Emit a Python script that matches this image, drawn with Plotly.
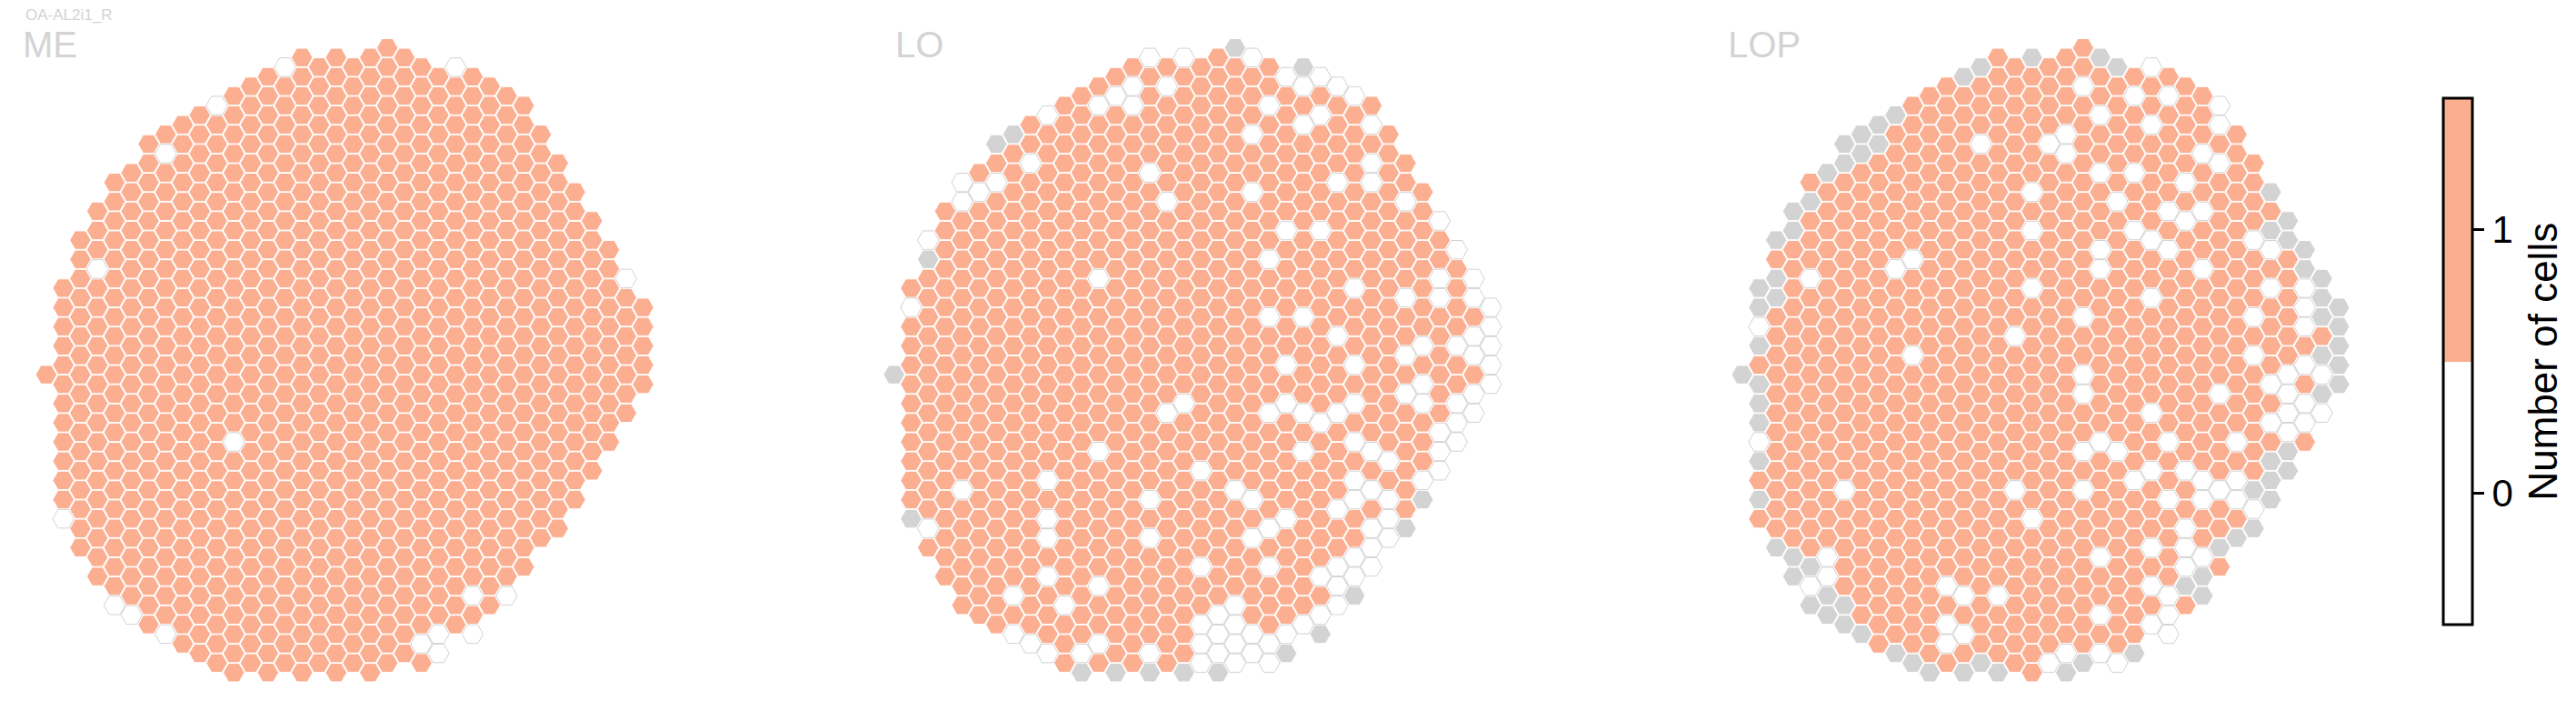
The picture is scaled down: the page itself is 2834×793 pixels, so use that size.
import plotly.graph_objects as go

# ---------------- data ----------------
PANELS = ["ME", "LO", "LOP"]
CELL_TYPE = "OA-AL2i1_R"
CBAR_LABEL = "Number of cells"

# hex grid outline: for each column index, first and last half-row index
COL_TOP = [34, 25, 20, 17, 14, 13, 10, 9, 8, 7, 6, 5, 4, 3, 2, 1, 2, 1,
           2, 1, 0, 1, 2, 3, 2, 3, 4, 5, 6, 9, 12, 15, 18, 21, 24, 27]
COL_BOTTOM = [34, 49, 52, 55, 58, 59, 60, 61, 62, 63, 64, 65, 64, 65, 64, 65, 64, 65,
              64, 65, 64, 63, 64, 63, 60, 61, 58, 57, 54, 51, 50, 47, 44, 41, 38, 35]

# cells with 0 cells (white) / not present (grey) per neuropil, as (column, half-row)
ME_ZERO = [(1, 49), (3, 23), (4, 58), (5, 59), (7, 11), (7, 61), (10, 6), (11, 41),
           (14, 2), (22, 62), (23, 61), (23, 63), (24, 2), (25, 57), (25, 61), (27, 57), (34, 24)]
ME_MISSING = []

LO_ZERO = [(15, 1), (17, 1), (21, 1), (23, 3), (25, 3), (14, 4), (16, 4), (24, 4), (26, 4),
           (13, 5), (27, 5), (12, 6), (14, 6), (22, 6), (9, 7), (25, 7), (24, 8), (28, 8),
           (21, 9), (8, 12), (28, 12), (15, 13), (4, 14), (6, 14), (5, 15), (26, 14), (28, 14),
           (21, 15), (4, 16), (16, 16), (30, 16), (32, 18), (23, 19), (25, 19), (2, 20), (22, 22),
           (33, 21), (12, 24), (32, 24), (34, 24), (27, 25), (1, 27), (30, 26), (32, 26), (34, 26),
           (35, 27), (22, 28), (24, 28), (26, 30), (35, 29), (34, 30), (31, 31), (33, 31), (35, 31),
           (30, 32), (34, 32), (23, 33), (27, 33), (35, 33), (31, 35), (35, 35), (30, 36), (34, 36),
           (17, 37), (23, 37), (27, 37), (31, 37), (33, 37), (16, 38), (22, 38), (24, 38), (26, 38),
           (34, 38), (25, 39), (33, 39), (32, 40), (27, 41), (33, 41), (12, 42), (24, 42), (28, 42),
           (32, 42), (29, 43), (18, 44), (32, 44), (9, 45), (27, 45), (31, 45), (4, 46), (20, 46),
           (28, 46), (15, 47), (21, 47), (27, 47), (29, 47), (26, 48), (9, 49), (23, 49), (29, 49),
           (2, 50), (22, 50), (28, 50), (9, 51), (15, 51), (21, 51), (29, 51), (28, 52), (27, 53),
           (18, 54), (22, 54), (26, 54), (28, 54), (9, 55), (25, 55), (27, 55), (12, 56), (26, 56),
           (7, 57), (10, 58), (20, 58), (26, 58), (19, 59), (25, 59), (18, 60), (20, 60), (24, 60),
           (7, 61), (19, 61), (21, 61), (23, 61), (8, 62), (12, 62), (18, 62), (20, 62), (22, 62),
           (9, 63), (11, 63), (15, 63), (19, 63), (21, 63), (18, 64), (20, 64), (22, 64)]
LO_MISSING = [(20, 0), (24, 2), (7, 9), (6, 10), (2, 22), (0, 34), (31, 47), (1, 49), (30, 50),
              (27, 57), (25, 61), (23, 63), (11, 65), (13, 65), (15, 65), (17, 65), (19, 65)]

LOP_ZERO = [(24, 2), (20, 4), (23, 5), (25, 5), (28, 6), (21, 7), (24, 8), (28, 8), (19, 9),
            (14, 10), (18, 10), (19, 11), (27, 11), (28, 12), (21, 13), (23, 13), (26, 14),
            (17, 15), (22, 16), (25, 17), (27, 17), (26, 18), (17, 19), (23, 19), (24, 20),
            (30, 20), (21, 21), (25, 21), (31, 21), (10, 22), (9, 23), (21, 23), (27, 23), (4, 24),
            (17, 25), (31, 25), (33, 25), (24, 26), (33, 27), (20, 28), (30, 28), (1, 29), (33, 29),
            (16, 30), (10, 32), (30, 32), (33, 33), (20, 34), (32, 34), (34, 34), (31, 35), (20, 36),
            (28, 36), (32, 36), (33, 37), (24, 38), (32, 38), (34, 38), (31, 39), (33, 39), (32, 40),
            (1, 41), (21, 41), (25, 41), (29, 41), (20, 42), (22, 42), (24, 44), (26, 44), (23, 45),
            (27, 45), (29, 45), (6, 46), (16, 46), (20, 46), (28, 46), (25, 47), (27, 47), (29, 47),
            (30, 48), (17, 49), (26, 50), (24, 52), (26, 52), (5, 53), (21, 53), (27, 53), (26, 54),
            (5, 55), (4, 56), (12, 56), (24, 56), (13, 57), (15, 57), (25, 57), (21, 59), (25, 59),
            (12, 60), (24, 60), (13, 61), (25, 61), (12, 62), (19, 63), (21, 63), (18, 64), (22, 64)]
LOP_MISSING = [(17, 1), (21, 1), (14, 2), (22, 2), (13, 3), (9, 7), (8, 8), (7, 9), (6, 10), (8, 10),
               (7, 11), (6, 12), (5, 13), (31, 15), (4, 16), (3, 17), (32, 18), (3, 19), (31, 19),
               (2, 20), (32, 20), (33, 21), (33, 23), (2, 24), (34, 24), (1, 25), (2, 26), (34, 26),
               (1, 27), (35, 27), (34, 28), (35, 29), (1, 31), (35, 31), (34, 32), (0, 34), (35, 33),
               (1, 35), (35, 35), (34, 36), (1, 37), (1, 39), (32, 42), (1, 43), (31, 43), (32, 44),
               (31, 45), (30, 46), (1, 47), (31, 47), (30, 50), (29, 51), (2, 52), (28, 52), (3, 53),
               (4, 54), (3, 55), (27, 55), (26, 56), (5, 57), (27, 57), (4, 58), (6, 58), (5, 59),
               (6, 60), (7, 61), (9, 63), (23, 63), (10, 64), (14, 64), (20, 64), (11, 65), (13, 65),
               (15, 65), (19, 65)]

ZEROS = {"ME": ME_ZERO, "LO": LO_ZERO, "LOP": LOP_ZERO}
MISSING = {"ME": ME_MISSING, "LO": LO_MISSING, "LOP": LOP_MISSING}
CBAR_TICKS = [0, 1]

# ---------------- styling / layout ----------------
OFF = 8                      # page body margin of the browser
W, H = 2834 - OFF, 793 - OFF
SALMON = "#fcae91"
GREY = "#d3d3d3"
TITLE_GREY = "#d3d3d3"
FONT = "Liberation Sans, Arial, sans-serif"

COL_PITCH = 18.76           # px per column
HALF_ROW = 10.57            # px per half-row
PANEL_C0 = [50.9, 983.6, 1916.6]  # window px of column 0 centre for each panel
ROW0_PX = 52.7
X_RANGE = [-1.5, 36.5]
Y_RANGE = [-68, 2]
TITLE_X = [25, 985, 1901]
HEX_SIZE = 23.5

fig = go.Figure()
layout_axes = {}

for k, name in enumerate(PANELS):
    zero = set(ZEROS[name])
    miss = set(MISSING[name])
    groups = {"one": ([], []), "zero": ([], []), "miss": ([], [])}
    for c in range(len(COL_TOP)):
        for j in range(COL_TOP[c], COL_BOTTOM[c] + 1, 2):
            key = "miss" if (c, j) in miss else ("zero" if (c, j) in zero else "one")
            groups[key][0].append(c)
            groups[key][1].append(-j)
    sfx = "" if k == 0 else str(k + 1)
    styles = {
        "one": (SALMON, "#ffffff"),
        "miss": (GREY, "#ffffff"),
        "zero": ("#ffffff", "#d2d2d2"),
    }
    for key in ["one", "miss", "zero"]:
        xs, ys = groups[key]
        fill, line = styles[key]
        fig.add_trace(go.Scatter(
            x=xs, y=ys, mode="markers", xaxis="x" + sfx, yaxis="y" + sfx,
            marker=dict(symbol="hexagon2", size=HEX_SIZE, color=fill,
                        line=dict(color=line, width=1)),
            hoverinfo="skip", showlegend=False))
    x0 = PANEL_C0[k] + X_RANGE[0] * COL_PITCH - OFF
    x1 = PANEL_C0[k] + X_RANGE[1] * COL_PITCH - OFF
    ytop = ROW0_PX - Y_RANGE[1] * HALF_ROW - OFF
    ybot = ROW0_PX - Y_RANGE[0] * HALF_ROW - OFF
    layout_axes["xaxis" + sfx] = dict(domain=[x0 / W, x1 / W], range=X_RANGE, visible=False,
                                      anchor="y" + sfx, fixedrange=True)
    layout_axes["yaxis" + sfx] = dict(domain=[1 - ybot / H, 1 - ytop / H], range=Y_RANGE,
                                      visible=False, anchor="x" + sfx, fixedrange=True)

# colorbar (discrete two-colour)
CB_LEFT, CB_TOP, CB_BOTTOM = 2688, 108, 687
cb_center = (CB_TOP + CB_BOTTOM) / 2 - OFF
fig.add_trace(go.Scatter(
    x=[-100, -100], y=[-100, -100], mode="markers", xaxis="x", yaxis="y",
    marker=dict(color=CBAR_TICKS, cmin=-0.5, cmax=1.5,
                colorscale=[[0, "#ffffff"], [0.5, "#ffffff"], [0.5, SALMON], [1, SALMON]],
                showscale=True,
                colorbar=dict(
                    x=(CB_LEFT - OFF) / W, xanchor="left", xpad=0, ypad=0,
                    y=1 - cb_center / H, yanchor="middle",
                    len=(CB_BOTTOM - CB_TOP) / H, lenmode="fraction",
                    thickness=32, outlinecolor="black", outlinewidth=3,
                    tickvals=CBAR_TICKS, ticktext=[str(t) for t in CBAR_TICKS],
                    ticks="outside", ticklen=12, tickwidth=3, tickcolor="black",
                    tickfont=dict(size=42, color="black", family=FONT))),
    hoverinfo="skip", showlegend=False))

annotations = []
for k, name in enumerate(PANELS):
    annotations.append(dict(text=name, x=(TITLE_X[k] - OFF - 1) / W, y=1 - (49.5 - OFF) / H,
                            xref="paper", yref="paper", xanchor="left", yanchor="middle",
                            showarrow=False, borderpad=0,
                            font=dict(size=40, color=TITLE_GREY, family=FONT)))
annotations.append(dict(text=CELL_TYPE, x=(28 - OFF - 1) / W, y=1 - (16.5 - OFF) / H,
                        xref="paper", yref="paper", xanchor="left", yanchor="middle",
                        showarrow=False, borderpad=0,
                        font=dict(size=17, color=TITLE_GREY, family=FONT)))
annotations.append(dict(text=CBAR_LABEL, textangle=-90, x=(2797 - OFF) / W, y=1 - cb_center / H,
                        xref="paper", yref="paper", xanchor="center", yanchor="middle",
                        showarrow=False, font=dict(size=44, color="black", family=FONT)))

fig.update_layout(width=W, height=H, margin=dict(l=0, r=0, t=0, b=0),
                  paper_bgcolor="white", plot_bgcolor="white",
                  annotations=annotations, **layout_axes)

fig.write_html("out.html")
